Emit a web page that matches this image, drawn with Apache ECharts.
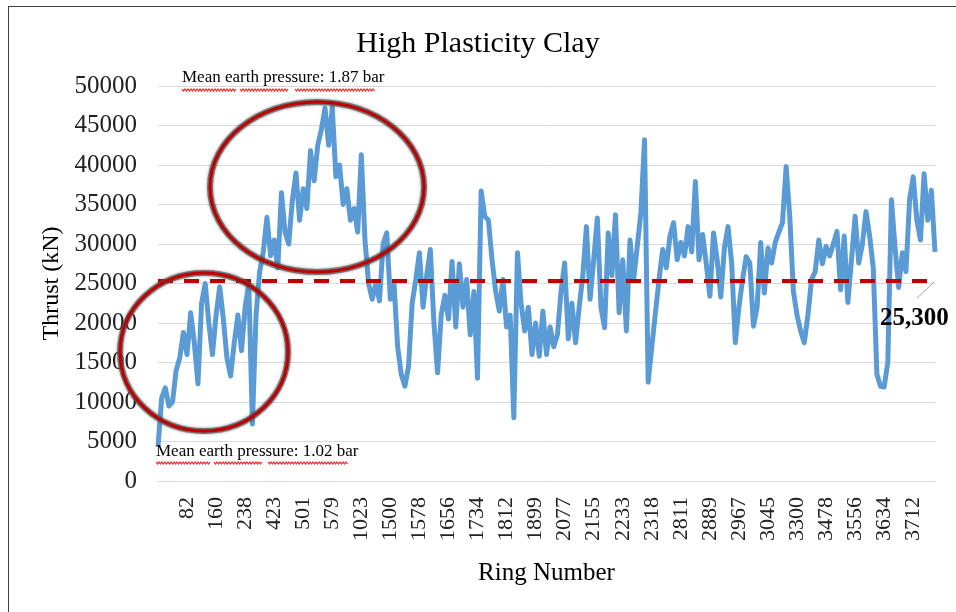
<!DOCTYPE html>
<html>
<head>
<meta charset="utf-8">
<script src="https://cdn.jsdelivr.net/npm/echarts@6/dist/echarts.min.js"></script>
<style>
html,body{margin:0;padding:0;background:#fff;}
#chart{width:956px;height:612px;}
</style>
</head>
<body>
<div id="chart"></div>
<script>
// Ring-number tick labels shown on the category axis (every 8th point)
const tickLabels = ['82','160','238','423','501','579','1023','1500','1578','1656','1734','1812','1899',
  '2077','2155','2233','2318','2811','2889','2967','3045','3300','3478','3556','3634','3712'];
const labelStep = 8;

// Thrust (kN), one value per category position
const thrust = [
  4300, 10500, 11800, 9500, 10000, 14000, 15600, 18800, 16000, 21300,
  17500, 12300, 22500, 25000, 20000, 16000, 21000, 24600, 20500, 15500,
  13300, 17500, 21000, 16500, 22000, 25000, 7200, 21000, 26500, 29000,
  33400, 28500, 30500, 27000, 36500, 31500, 30000, 35500, 39000, 33000,
  37000, 34500, 41800, 38000, 42500, 44500, 47200, 42500, 47300, 38500,
  40000, 35000, 37000, 33000, 34500, 31500, 41300, 30500, 25000, 23000,
  25000, 22800, 30000, 31400, 23000, 25000, 17000, 13500, 12000, 14500,
  22500, 25500, 28900, 22000, 26000, 29300, 20000, 13700, 21000, 23500,
  20500, 27800, 19500, 27500, 22000, 25500, 18500, 24000, 13000, 36700,
  33500, 33000, 28000, 24000, 21500, 25500, 19500, 21000, 8000, 28900,
  22500, 19000, 22000, 16000, 20000, 15800, 21500, 16000, 19500, 17000,
  18500, 24000, 27600, 18000, 22500, 17500, 22000, 26000, 32200, 23000,
  28000, 33300, 22000, 19400, 31400, 26000, 33700, 21300, 28000, 19000,
  30500, 25500, 29700, 34000, 43200, 12500, 17000, 21300, 25500, 29300,
  27000, 31000, 32700, 28000, 30200, 28500, 32200, 29000, 37900, 28000,
  31200, 27500, 23400, 31400, 28000, 23300, 29500, 32200, 27600, 17500,
  22000, 25500, 28400, 27600, 19600, 22000, 30200, 23800, 29500, 27600,
  30200, 31500, 32700, 39800, 33500, 24000, 21000, 19000, 17500, 21000,
  25500, 26500, 30500, 27500, 29700, 28500, 30000, 31600, 24200, 31000,
  22600, 28000, 33500, 27600, 30000, 34100, 31000, 27000, 13500, 12000,
  11900, 15000, 35600, 29500, 24500, 28900, 26500, 35600, 38500, 33000,
  30500, 38900, 33000, 36800, 29000
];

const meanThrust = 25300;
const yTicks = { min: 0, max: 50000, interval: 5000 };

const categories = thrust.map((_, i) => {
  const k = i / labelStep - 1;
  return (i % labelStep === 0 && k >= 0 && k < tickLabels.length) ? tickLabels[k] : '';
});

const serif = '"Liberation Serif", "Times New Roman", serif';
const chart = echarts.init(document.getElementById('chart'));

function squiggle(x0, x1, y) {
  const pts = [];
  let up = true;
  for (let x = x0; x <= x1; x += 1.5) { pts.push([x, up ? y - 1 : y + 1]); up = !up; }
  return { type: 'polyline', z: 100, shape: { points: pts }, style: { stroke: '#ff2020', lineWidth: 1.2, fill: null } };
}
function ring(cx, cy, rx, ry) {
  return [
    { type: 'ellipse', z: 100, shape: { cx, cy, rx, ry }, style: { fill: null, stroke: 'rgba(90,90,90,0.75)', lineWidth: 6, shadowBlur: 3, shadowColor: 'rgba(0,0,0,0.5)' } },
    { type: 'ellipse', z: 101, shape: { cx, cy, rx, ry }, style: { fill: null, stroke: '#c00000', lineWidth: 3 } }
  ];
}

chart.setOption({
  animation: false,
  backgroundColor: '#fff',
  title: {
    text: 'High Plasticity Clay', left: 'center', top: 24,
    textStyle: { fontFamily: serif, fontSize: 30, fontWeight: 'normal', color: '#000' }
  },
  grid: { left: 158, right: 21, top: 86, bottom: 131 },
  xAxis: {
    type: 'category', data: categories, boundaryGap: false,
    name: 'Ring Number', nameLocation: 'middle', nameGap: 80,
    nameTextStyle: { fontFamily: serif, fontSize: 25, color: '#000' },
    axisLine: { lineStyle: { color: '#d9d9d9' } },
    axisTick: { show: false },
    axisLabel: { interval: labelStep - 1, rotate: 90, margin: 16, fontFamily: serif, fontSize: 22, color: '#222' },
    splitLine: { show: false }
  },
  yAxis: {
    type: 'value', min: yTicks.min, max: yTicks.max, interval: yTicks.interval,
    name: 'Thrust (kN)', nameLocation: 'middle', nameGap: 93, nameRotate: 90,
    nameTextStyle: { fontFamily: serif, fontSize: 24, color: '#000' },
    axisLine: { show: false }, axisTick: { show: false },
    axisLabel: { margin: 21, fontFamily: serif, fontSize: 25, color: '#222', formatter: v => String(v) },
    splitLine: { lineStyle: { color: '#d9d9d9', width: 1 } }
  },
  series: [{
    type: 'line', data: thrust, symbol: 'none',
    lineStyle: { color: '#5b9bd5', width: 5, join: 'round' },
    markLine: {
      silent: true, symbol: 'none', label: { show: false },
      lineStyle: { color: '#c00000', type: [15, 11], width: 4 },
      data: [{ yAxis: meanThrust }]
    }
  }]
});

// Annotations (positioned from the axis scales where they refer to data)
const p = chart.convertToPixel({ gridIndex: 0 }, [thrust.length - 1, meanThrust]);
const g = [];
g.push(...ring(317, 187, 107, 85));
g.push(...ring(204, 352, 84, 79));
g.push({ type: 'text', z: 102, style: { text: 'Mean earth pressure: 1.87 bar', x: 182, y: 78, textVerticalAlign: 'middle', font: '17px ' + serif, fill: '#000' } });
g.push(squiggle(182, 237, 90), squiggle(240, 289, 90), squiggle(295, 375, 90));
g.push({ type: 'text', z: 102, style: { text: 'Mean earth pressure: 1.02 bar', x: 156, y: 452, textVerticalAlign: 'middle', font: '17px ' + serif, fill: '#000' } });
g.push(squiggle(156, 211, 463), squiggle(214, 263, 463), squiggle(268, 348, 463));
g.push({ type: 'line', z: 102, shape: { x1: p[0] - 1, y1: p[1] + 1, x2: p[0] - 18, y2: p[1] + 17 }, style: { stroke: '#a6a6a6', lineWidth: 1 } });
g.push({ type: 'text', z: 102, style: { text: '25,300', x: 880, y: p[1] + 37, textVerticalAlign: 'middle', font: 'bold 25px ' + serif, fill: '#000' } });
g.push({ type: 'line', z: 102, shape: { x1: 8, y1: 6.5, x2: 956, y2: 6.5 }, style: { stroke: '#404040', lineWidth: 1 } });
g.push({ type: 'line', z: 102, shape: { x1: 8.5, y1: 6, x2: 8.5, y2: 612 }, style: { stroke: '#404040', lineWidth: 1 } });
chart.setOption({ graphic: g });
</script>
</body>
</html>
